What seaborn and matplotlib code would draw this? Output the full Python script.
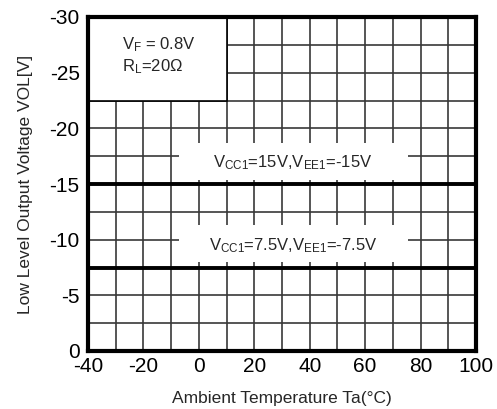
import matplotlib
matplotlib.use("Agg")
import matplotlib.pyplot as plt
import matplotlib.patches as mpatches
import seaborn as sns
import pandas as pd
import numpy as np

# data
ta = [-40, 100]
vol_15v = [-15, -15]
vol_7v5 = [-7.5, -7.5]
x_ticks = [-40, -20, 0, 20, 40, 60, 80, 100]
y_ticks = [0, -5, -10, -15, -20, -25, -30]
label_15v = r"V$_{\mathrm{CC1}}$=15V,V$_{\mathrm{EE1}}$=-15V"
label_7v5 = r"V$_{\mathrm{CC1}}$=7.5V,V$_{\mathrm{EE1}}$=-7.5V"
cond_lines = [r"V$_{\mathrm{F}}$ = 0.8V", r"R$_{\mathrm{L}}$=20Ω"]

sns.set_style("white")
plt.rcParams["font.family"] = ["Liberation Sans", "DejaVu Sans"]
plt.rcParams["mathtext.fontset"] = "custom"
plt.rcParams["mathtext.rm"] = "Liberation Sans"
plt.rcParams["mathtext.it"] = "Liberation Sans:italic"
plt.rcParams["mathtext.bf"] = "Liberation Sans:bold"

df = pd.DataFrame({
    "Ta": ta * 2,
    "VOL": vol_15v + vol_7v5,
    "cond": ["15V"] * 2 + ["7.5V"] * 2,
})

fig = plt.figure(figsize=(4.97, 4.09), dpi=100)
ax = fig.add_axes([88 / 497, 1 - 351 / 409, (476 - 88) / 497, (351 - 17) / 409])

sns.lineplot(data=df, x="Ta", y="VOL", units="cond", estimator=None,
             color="black", linewidth=2.8, ax=ax, zorder=4)

ax.set_xlim(-40, 100)
ax.set_ylim(0, -30)
ax.set_xticks(x_ticks)
ax.set_xticks(np.arange(-40, 101, 10), minor=True)
ax.set_yticks(y_ticks)
ax.set_yticks(np.arange(0, -30.1, -2.5), minor=True)
ax.set_xticklabels([str(v) for v in x_ticks])
ax.set_yticklabels([str(v) for v in y_ticks])
ax.tick_params(axis="both", which="both", length=0, labelsize=15, colors="black")
ax.tick_params(axis="x", pad=4)
ax.tick_params(axis="y", pad=6)
ax.grid(True, which="both", color="#383838", linewidth=1.2)
ax.set_axisbelow(True)
for s in ax.spines.values():
    s.set_visible(True)
    s.set_color("black")
    s.set_linewidth(3)
    s.set_zorder(5)

ax.set_xlabel("Ambient Temperature Ta(°C)", fontsize=12.5, labelpad=11)
ax.set_ylabel("Low Level Output Voltage VOL[V]", fontsize=12.5, labelpad=12)

# condition box in the corner
ax.add_patch(mpatches.Rectangle((-40, -30), 50, 7.5, facecolor="white",
                                edgecolor="black", linewidth=1.2, zorder=3))
ax.text(-27.9, -27.5, cond_lines[0], fontsize=12, ha="left", va="center", zorder=6)
ax.text(-27.9, -25.5, cond_lines[1], fontsize=12, ha="left", va="center", zorder=6)

# line labels with white backing
ax.add_patch(mpatches.Rectangle((-7, -18.7), 82.5, 3.3, facecolor="white",
                                edgecolor="none", zorder=3))
ax.add_patch(mpatches.Rectangle((-7, -11.3), 82.5, 3.3, facecolor="white",
                                edgecolor="none", zorder=3))
ax.text(34, -16.9, label_15v, fontsize=12, ha="center", va="center", zorder=6)
ax.text(34, -9.5, label_7v5, fontsize=12, ha="center", va="center", zorder=6)

fig.savefig("out.png", dpi=100)
